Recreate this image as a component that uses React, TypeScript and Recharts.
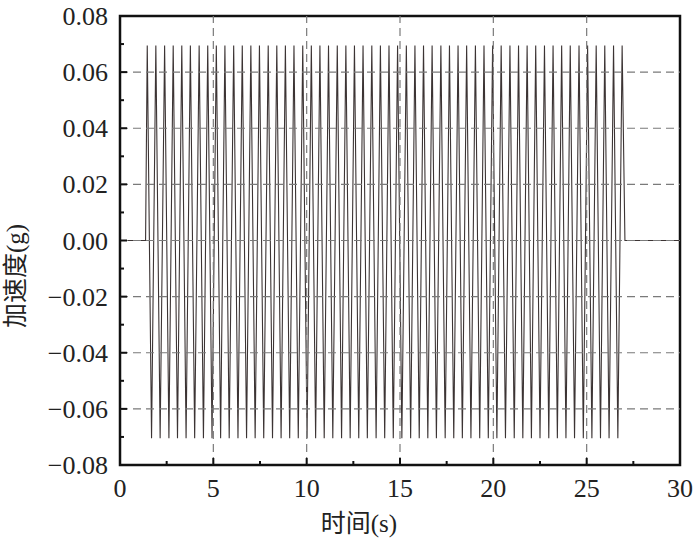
import React from 'react';
import { LineChart, Line, XAxis, YAxis, ReferenceLine, ReferenceArea, Label } from 'recharts';

// peak / trough times (s)
const peakTimes = [
  1.46, 1.92, 2.39, 2.85, 3.31, 3.77, 4.24, 4.7, 5.16, 5.62, 6.09, 6.55, 7.01, 7.47,
  7.94, 8.4, 8.86, 9.32, 9.79, 10.25, 10.71, 11.17, 11.64, 12.1, 12.56, 13.02, 13.49,
  13.95, 14.41, 14.87, 15.34, 15.8, 16.26, 16.72, 17.19, 17.65, 18.11, 18.57, 19.04,
  19.5, 19.96, 20.42, 20.89, 21.35, 21.81, 22.27, 22.74, 23.2, 23.66, 24.12, 24.59,
  25.05, 25.51, 25.97, 26.44, 26.9,
];
const troughTimes = [
  1.69, 2.15, 2.62, 3.08, 3.54, 4.0, 4.47, 4.93, 5.39, 5.85, 6.32, 6.78, 7.24, 7.7,
  8.17, 8.63, 9.09, 9.55, 10.02, 10.48, 10.94, 11.4, 11.87, 12.33, 12.79, 13.25, 13.72,
  14.18, 14.64, 15.1, 15.57, 16.03, 16.49, 16.95, 17.42, 17.88, 18.34, 18.8, 19.27,
  19.73, 20.19, 20.65, 21.12, 21.58, 22.04, 22.5, 22.97, 23.43, 23.89, 24.35, 24.82,
  25.28, 25.74, 26.2, 26.67,
];
const peakValue = 0.0695;
const troughValue = -0.0705;
// quiet parts before and after the shaking
const restTimes = [0, 1.37, 27.05, 30];

const xTicks = [0, 2.5, 5, 7.5, 10, 12.5, 15, 17.5, 20, 22.5, 25, 27.5, 30];
const xLabels = [0, 5, 10, 15, 20, 25, 30];
const yTicks = [-0.08, -0.07, -0.06, -0.05, -0.04, -0.03, -0.02, -0.01, 0, 0.01, 0.02, 0.03, 0.04, 0.05, 0.06, 0.07, 0.08];
const yLabels = [-0.08, -0.06, -0.04, -0.02, 0, 0.02, 0.04, 0.06, 0.08];
const gridX = [5, 10, 15, 20, 25];
const gridY = [-0.06, -0.04, -0.02, 0, 0.02, 0.04, 0.06];

const data = [
  ...restTimes.map((t) => ({ t, a: 0 })),
  ...peakTimes.map((t) => ({ t, a: peakValue })),
  ...troughTimes.map((t) => ({ t, a: troughValue })),
].sort((p, q) => p.t - q.t);

const FONT = "'Liberation Serif', 'Noto Sans CJK SC', serif";

const isLabel = (list: number[], v: number) => list.some((l) => Math.abs(l - v) < 1e-6);

const XTick = (props: any) => {
  const { x, y, payload } = props;
  const major = isLabel(xLabels, payload.value);
  return (
    <g>
      <line x1={x} x2={x} y1={y} y2={y - (major ? 7 : 4)} stroke="#111" strokeWidth={2} />
      {major && (
        <text x={x} y={y + 32} textAnchor="middle" fontFamily={FONT} fontSize={26} fill="#222">
          {payload.value}
        </text>
      )}
    </g>
  );
};

const YTick = (props: any) => {
  const { x, y, payload } = props;
  const major = isLabel(yLabels, payload.value);
  const v = payload.value;
  const txt = (v < 0 ? '\u2212' : '') + Math.abs(v).toFixed(2);
  return (
    <g>
      <line x1={x} x2={x + (major ? 7 : 4)} y1={y} y2={y} stroke="#111" strokeWidth={2} />
      {major && (
        <text x={x - 12} y={y} dy="0.35em" textAnchor="end" fontFamily={FONT} fontSize={26} fill="#222">
          {txt}
        </text>
      )}
    </g>
  );
};

export default function App() {
  return (
    <div style={{ position: 'absolute', left: 0, top: 0, width: 700, height: 552, background: '#fff' }}>
      <LineChart width={700} height={552} data={data} margin={{ top: 16, right: 20, bottom: 20, left: 0 }}>
        <XAxis
          dataKey="t"
          type="number"
          domain={[0, 30]}
          ticks={xTicks}
          interval={0}
          height={67}
          tickSize={0}
          tickMargin={0}
          tickLine={false}
          axisLine={false}
          tick={<XTick />}
        >
          <Label
            content={() => (
              <text x={359} y={523} textAnchor="middle" dominantBaseline="central" fontFamily={FONT} fontSize={25} fill="#222">
                时间(s)
              </text>
            )}
          />
        </XAxis>
        <YAxis
          type="number"
          domain={[-0.08, 0.08]}
          ticks={yTicks}
          interval={0}
          width={120}
          tickSize={0}
          tickMargin={0}
          tickLine={false}
          axisLine={false}
          tick={<YTick />}
        >
          <Label
            content={() => (
              <text
                x={15}
                y={276}
                transform="rotate(-90 15 276)"
                textAnchor="middle"
                dominantBaseline="central"
                fontFamily={FONT}
                fontSize={25}
                fill="#222"
              >
                加速度(g)
              </text>
            )}
          />
        </YAxis>
        <Line
          type="linear"
          dataKey="a"
          stroke="#3c3434"
          strokeWidth={1.1}
          dot={false}
          isAnimationActive={false}
        />
        {gridX.map((v) => (
          <ReferenceLine key={'gx' + v} x={v} stroke="#7a7a7a" strokeWidth={1.2} strokeDasharray="8 5" />
        ))}
        {gridY.map((v) => (
          <ReferenceLine key={'gy' + v} y={v} stroke="#7a7a7a" strokeWidth={1.2} strokeDasharray="8 5" />
        ))}
        <ReferenceArea x1={0} x2={30} y1={-0.08} y2={0.08} fill="none" stroke="#111" strokeWidth={2.5} fillOpacity={0} />
      </LineChart>
    </div>
  );
}
